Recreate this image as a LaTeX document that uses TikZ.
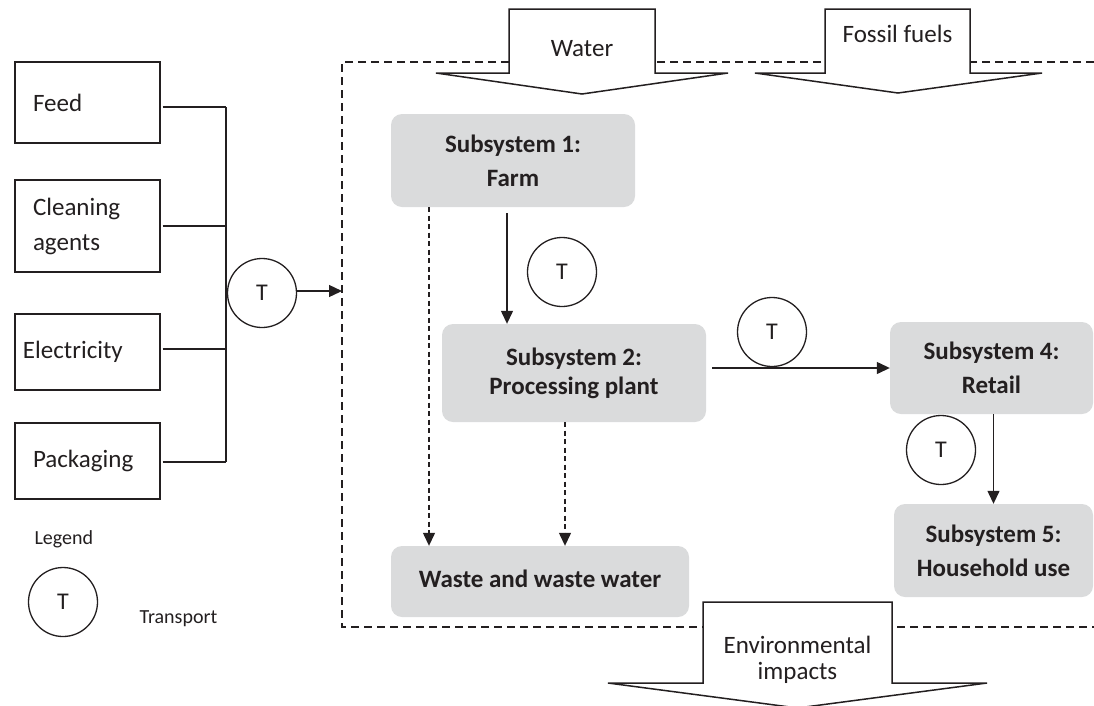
\documentclass[tikz,border=0pt]{standalone}
\usepackage{fontspec}
\setmainfont{Carlito}
\usetikzlibrary{arrows.meta}
\definecolor{boxgray}{RGB}{218,219,220}
\definecolor{ink}{RGB}{35,31,32}
\begin{document}
\begin{tikzpicture}[x=1pt,y=-1pt,
  every node/.style={text=ink},
  txt/.style={font=\fontsize{25}{34}\selectfont},
  smalltxt/.style={font=\fontsize{20}{24}\selectfont},
  sub/.style={fill=boxgray, rounded corners=11pt, align=center, inner sep=0pt,
              font=\bfseries\fontsize{25}{34}\selectfont},
  inbox/.style={draw=ink, line width=1.3pt, align=left, inner ysep=0pt,
                minimum height=#1, font=\fontsize{25}{35}\selectfont},
  conn/.style={draw=ink, line width=1.3pt},
  arr/.style={conn, -{Triangle[length=13pt,width=12pt]}},
  darr/.style={draw=ink, line width=1.3pt, dash pattern=on 5pt off 3.5pt,
               -{Triangle[length=13pt,width=12pt]}},
  boundary/.style={draw=ink, line width=2pt, dash pattern=on 8pt off 5pt},
  bigarrow/.style={draw=ink, fill=white, line width=1.5pt, line join=miter},
  tcirc/.style={circle, draw=ink, line width=1.3pt, minimum size=69pt, inner sep=0pt,
                font=\fontsize{24}{28}\selectfont}
]
\useasboundingbox (0,0) rectangle (1094,705);

% system boundary
\draw[boundary] (1094,62) -- (342,62) -- (342,627) -- (1094,627);

% big block arrows
\draw[bigarrow] (509,9) -- (655,9) -- (655,73) -- (728,73) -- (582,94) -- (436,73) -- (509,73) -- cycle;
\node[txt] (water) at (582,49) {Water};
\draw[bigarrow] (825,9) -- (970,9) -- (970,73) -- (1042,73) -- (898,93) -- (755,73) -- (825,73) -- cycle;
\node[txt] (fossil) at (897.5,34) {Fossil fuels};
\draw[bigarrow] (703,602) -- (892,602) -- (892,683) -- (987,683) -- (797.5,708) -- (608,683) -- (703,683) -- cycle;
\node[align=center, font=\fontsize{25}{26}\selectfont] (env) at (797.5,660) {Environmental\\impacts};

% input boxes
\node[inbox=81pt, text width=109pt, inner xsep=18pt] (feed) at (87.5,102.5) {Feed};
\node[inbox=92pt, text width=109pt, inner xsep=18pt] (clean) at (87.5,226) {Cleaning\\agents};
\node[inbox=76pt, text width=129pt, inner xsep=8pt] (elec) at (87.5,352) {Electricity};
\node[inbox=76pt, text width=109pt, inner xsep=18pt] (pack) at (87.5,461) {Packaging};

\coordinate (jf) at (226,107);
\coordinate (jc) at (226,226);
\coordinate (je) at (226,349);
\coordinate (jp) at (226,462);
\draw[conn] ([xshift=2pt]feed.east |- jf) -- (jf);
\draw[conn] ([xshift=2pt]clean.east |- jc) -- (jc);
\draw[conn] ([xshift=2pt]elec.east |- je) -- (je);
\draw[conn] ([xshift=2pt]pack.east |- jp) -- (jp);
\draw[conn] (jf) -- (jp);

\node[tcirc] (t0) at (262,293) {T};
\coordinate (bl) at (342,291);
\draw[arr] (t0.east |- bl) -- (bl);

% legend
\node[smalltxt, anchor=west] (legend) at (31,539) {Legend};
\node[tcirc] (tl) at (63,602) {T};
\node[smalltxt, anchor=west] (transport) at (136,619) {Transport};

% subsystems
\node[sub, minimum width=244pt, minimum height=93pt] (sub1) at (513,160.5) {Subsystem 1:\\Farm};
\node[sub, minimum width=264pt, minimum height=98pt, font=\bfseries\fontsize{25}{29}\selectfont] (sub2) at (574,373) {Subsystem 2:\\Processing plant};
\node[sub, minimum width=203pt, minimum height=92pt] (retail) at (991.5,368) {Subsystem 4:\\Retail};
\node[sub, minimum width=199pt, minimum height=93pt] (house) at (993.5,550.5) {Subsystem 5:\\Household use};
\node[sub, minimum width=298pt, minimum height=71pt] (waste) at (540,581.5) {\raisebox{6pt}{Waste and waste water}};

% transport circles
\node[tcirc] (t1) at (562,272) {T};
\node[tcirc] (t2) at (772,332) {T};
\node[tcirc] (t3) at (941,450) {T};

% flows
\draw[arr] ([xshift=-6pt,yshift=-6pt]sub1.south) -- ([xshift=-6pt]sub1.south |- sub2.north);
\draw[arr] ([xshift=6pt]sub2.east |- retail.west) -- (retail.west);
\draw[arr] ([xshift=2pt]retail.south) -- ([xshift=2pt]retail.south |- house.north);
\draw[darr] ([xshift=-84pt]sub1.south) -- ([xshift=-84pt]sub1.south |- waste.north);
\draw[darr] ([xshift=-9pt]sub2.south) -- ([xshift=-9pt]sub2.south |- waste.north);
\end{tikzpicture}
\end{document}
